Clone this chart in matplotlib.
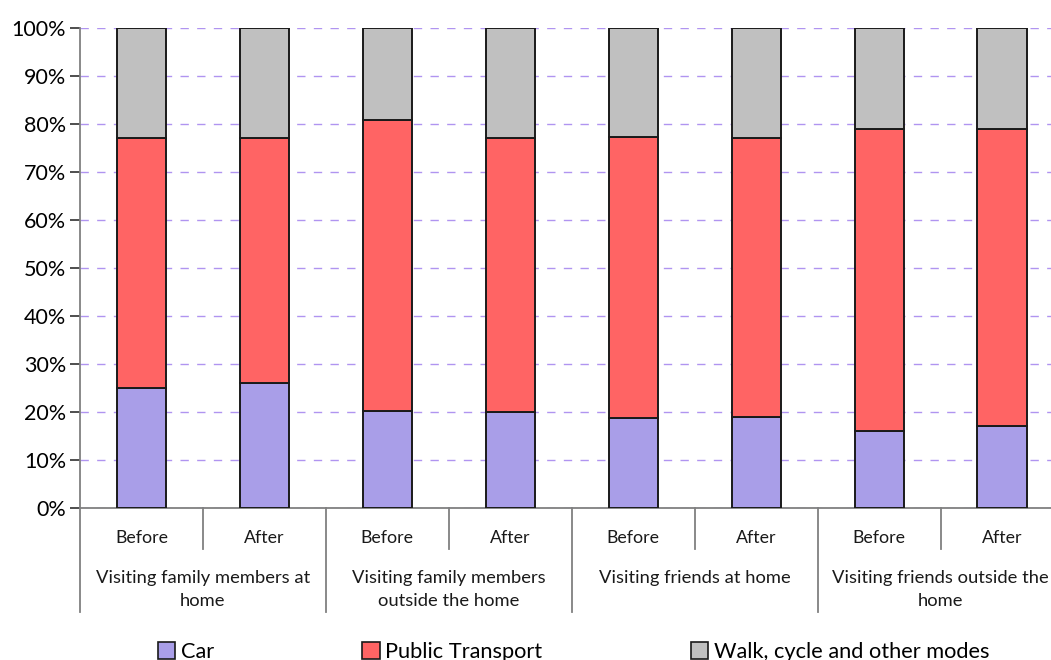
import matplotlib
matplotlib.use("Agg")
import matplotlib.pyplot as plt
import matplotlib.transforms as mtransforms
from matplotlib.lines import Line2D
from matplotlib.patches import Patch
import numpy as np

plt.rcParams['font.family'] = ['Lato', 'DejaVu Sans']

groups = ["Visiting family members at\nhome", "Visiting family members\noutside the home",
          "Visiting friends at home", "Visiting friends outside the\nhome"]
periods = ["Before", "After"]
series_names = ["Car", "Public Transport", "Walk, cycle and other modes"]
car = [25, 26, 20.2, 20, 18.8, 19, 16, 17]
public_transport = [52, 51, 60.6, 57, 58.5, 58, 63, 62]
walk_other = [23, 23, 19.2, 23, 22.7, 23, 21, 21]
yticks = [0, 10, 20, 30, 40, 50, 60, 70, 80, 90, 100]

colors = ['#a99ee8', '#ff6464', '#c0c0c0']

fig = plt.figure(figsize=(10.51, 6.6), dpi=100)
ax = fig.add_axes([80/1051, 152/660, 983.5/1051, 480/660])

x = np.arange(len(car))
bottom = np.zeros(len(car))
for vals, col in zip([car, public_transport, walk_other], colors):
    ax.bar(x, vals, width=0.4, bottom=bottom, color=col, edgecolor='#1a1a1a',
           linewidth=1.4, zorder=3)
    bottom += np.array(vals)

ax.set_xlim(-0.5, 7.5)
ax.set_ylim(0, 100)
ax.set_yticks(yticks)
ax.set_yticklabels([f"{v}%" for v in yticks], fontsize=15.5)
ax.yaxis.grid(True, linestyle=(0, (6, 6)), color='#b094f0', linewidth=1.0, zorder=0)
for s in ['top', 'right']:
    ax.spines[s].set_visible(False)
ax.spines['left'].set_color('#808080')
ax.spines['bottom'].set_color('#808080')
ax.spines['left'].set_linewidth(1.3)
ax.spines['bottom'].set_linewidth(1.3)
ax.tick_params(axis='y', length=7, color='#404040', width=1.3, pad=3)
ax.set_xticks([])

trans = mtransforms.blended_transform_factory(ax.transData, ax.transAxes)
ax_h = 480.0
def yfrac(py):
    return -(py - 508) / ax_h

# period labels
for i in x:
    ax.text(i, yfrac(538), periods[i % 2], transform=trans, ha='center', va='center',
            fontsize=12.8, color='#1a1a1a')
# group labels
for g, name in enumerate(groups):
    ax.text(2 * g + 0.5, yfrac(570), name, transform=trans, ha='center', va='top',
            fontsize=13.2, color='#1a1a1a', linespacing=1.55, clip_on=False)
# separators
for b in np.arange(-0.5, 8.0, 1.0):
    if int(b + 0.5) % 2 == 0:
        yb = yfrac(612)
    else:
        yb = yfrac(549)
    ax.add_line(Line2D([b, b], [0, yb], transform=trans, color='#808080', linewidth=1.3,
                       clip_on=False))

handles = [Patch(facecolor=c, edgecolor='#1a1a1a', linewidth=1.2) for c in colors]
fig.legend(handles, series_names, loc='center', bbox_to_anchor=(0.5457, 1 - 652/660),
           ncol=3, frameon=False, fontsize=15.7, handlelength=0.8, handleheight=0.8,
           handletextpad=0.25, columnspacing=6.8)

fig.savefig("out.png", dpi=100)
